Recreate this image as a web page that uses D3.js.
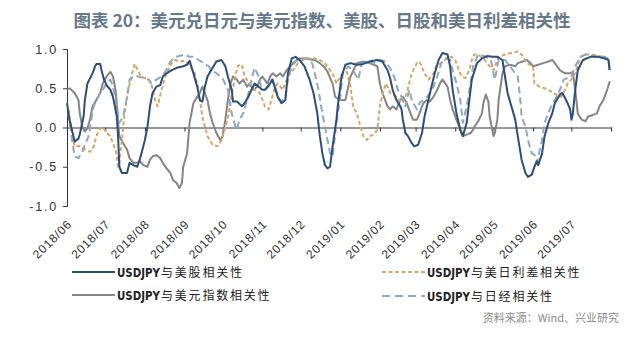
<!DOCTYPE html>
<html><head><meta charset="utf-8">
<script src="https://cdn.jsdelivr.net/npm/d3@7"></script>
<style>body{margin:0;background:#fff}</style>
</head><body><svg id="chart" width="640" height="339"></svg>
<script>
// ---------- data ----------
const START_DATE = "2018-06-01";
const END_DATE = "2019-08-01";
const monthTicks = ["2018/06","2018/07","2018/08","2018/09","2018/10","2018/11","2018/12","2019/01","2019/02","2019/03","2019/04","2019/05","2019/06","2019/07","2019/08"];
const monthLabels = ["2018/06","2018/07","2018/08","2018/09","2018/10","2018/11","2018/12","2019/01","2019/02","2019/03","2019/04","2019/05","2019/06","2019/07"];
const yTicks = [-1, -0.5, 0, 0.5, 1];
const yTickLabels = ["-1.0","-0.5","0.0","0.5","1.0"];
const titleText = "图表 20：美元兑日元与美元指数、美股、日股和美日利差相关性";
const sourceText = "资料来源：Wind、兴业研究";
const seriesNames = ["USDJPY与美股相关性","USDJPY与美元指数相关性","USDJPY与美日利差相关性","USDJPY与日经相关性"];

// [days since START_DATE, correlation]
const usStockCorr = [[0,0.31],[2,0.10],[5,-0.11],[6,-0.18],[9,-0.14],[10,-0.09],[13,0.14],[14,0.35],[16,0.56],[20,0.69],[22,0.78],[23,0.81],[26,0.81],[27,0.73],[29,0.61],[31,0.54],[34,0.48],[36,0.39],[39,0.14],[40,-0.11],[41,-0.50],[43,-0.58],[47,-0.58],[49,-0.45],[52,-0.48],[55,-0.50],[57,-0.41],[61,-0.16],[63,0.01],[65,0.27],[67,0.44],[70,0.52],[73,0.54],[75,0.65],[78,0.69],[82,0.73],[86,0.76],[91,0.78],[94,0.80],[96,0.85],[99,0.69],[102,0.52],[104,0.35],[106,0.33],[108,0.52],[110,0.65],[114,0.76],[117,0.84],[121,0.86],[124,0.78],[126,0.65],[129,0.48],[130,0.33],[133,0.33],[137,0.27],[139,0.31],[142,0.39],[145,0.50],[147,0.56],[150,0.52],[153,0.48],[155,0.48],[159,0.56],[161,0.61],[165,0.39],[168,0.31],[171,0.35],[173,0.69],[176,0.88],[179,0.90],[182,0.86],[186,0.78],[190,0.61],[193,0.44],[196,0.18],[198,-0.11],[200,-0.33],[202,-0.48],[204,-0.52],[206,-0.50],[208,-0.24],[211,0.10],[212,0.27],[215,0.65],[218,0.80],[222,0.82],[227,0.80],[232,0.81],[237,0.84],[243,0.86],[247,0.84],[251,0.73],[253,0.63],[255,0.48],[258,0.35],[261,0.27],[262,0.23],[263,0.10],[265,-0.07],[267,-0.11],[270,-0.20],[272,-0.24],[275,-0.22],[278,-0.07],[280,0.14],[283,0.35],[286,0.56],[288,0.69],[291,0.86],[294,0.95],[298,0.93],[300,0.78],[302,0.48],[305,0.18],[308,-0.03],[310,-0.11],[313,0.06],[316,0.48],[317,0.61],[321,0.82],[325,0.88],[329,0.91],[333,0.90],[337,0.90],[341,0.86],[343,0.65],[345,0.44],[348,0.27],[351,0.10],[353,-0.11],[356,-0.41],[359,-0.58],[361,-0.63],[364,-0.60],[366,-0.50],[368,-0.43],[369,-0.48],[372,-0.33],[374,-0.11],[377,0.06],[380,0.18],[382,0.31],[386,0.42],[388,0.44],[392,0.31],[394,0.23],[395,0.10],[396,0.16],[398,0.48],[400,0.73],[404,0.86],[410,0.90],[416,0.90],[421,0.88],[424,0.86],[425,0.73]];

const usdIndexCorr = [[0,0.48],[2,0.50],[6,0.44],[9,0.35],[10,0.18],[12,0.01],[14,-0.05],[16,-0.01],[18,0.10],[20,0.27],[23,0.35],[26,0.44],[28,0.56],[31,0.65],[34,0.71],[36,0.65],[38,0.48],[39,0.31],[40,0.06],[41,-0.11],[44,-0.20],[47,-0.28],[49,-0.39],[52,-0.45],[55,-0.45],[57,-0.43],[60,-0.48],[63,-0.50],[65,-0.41],[67,-0.37],[70,-0.35],[73,-0.39],[75,-0.45],[78,-0.52],[81,-0.58],[83,-0.67],[86,-0.71],[88,-0.77],[90,-0.71],[91,-0.50],[94,-0.33],[96,0.06],[99,0.31],[102,0.39],[104,0.44],[106,0.52],[110,0.35],[112,0.18],[114,0.06],[117,-0.07],[120,-0.16],[122,-0.11],[124,0.10],[126,0.35],[128,0.56],[130,0.65],[133,0.61],[135,0.56],[138,0.61],[141,0.52],[143,0.56],[146,0.48],[149,0.52],[151,0.61],[153,0.65],[157,0.56],[159,0.65],[161,0.69],[164,0.65],[167,0.69],[169,0.65],[172,0.73],[175,0.78],[177,0.82],[180,0.86],[182,0.88],[186,0.88],[190,0.87],[194,0.86],[198,0.82],[202,0.76],[204,0.71],[208,0.56],[210,0.39],[214,0.35],[218,0.35],[222,0.65],[227,0.82],[232,0.84],[237,0.82],[243,0.78],[245,0.56],[247,0.44],[251,0.27],[253,0.23],[255,0.27],[258,0.23],[261,0.35],[263,0.39],[266,0.31],[269,0.18],[271,0.10],[274,0.10],[276,0.18],[279,0.31],[282,0.35],[284,0.33],[287,0.39],[290,0.48],[292,0.56],[294,0.61],[298,0.52],[300,0.35],[302,0.23],[305,0.10],[308,-0.03],[310,-0.11],[313,-0.09],[316,-0.07],[318,-0.03],[319,0.01],[322,0.08],[325,0.18],[326,0.31],[328,0.42],[330,0.33],[331,0.14],[333,-0.03],[334,-0.11],[335,-0.07],[337,0.10],[338,0.35],[341,0.69],[343,0.78],[347,0.80],[351,0.78],[353,0.82],[357,0.84],[360,0.86],[363,0.82],[365,0.78],[369,0.80],[373,0.82],[377,0.84],[380,0.86],[382,0.82],[386,0.73],[390,0.69],[394,0.69],[396,0.71],[398,0.48],[400,0.18],[403,0.10],[406,0.08],[408,0.14],[412,0.16],[415,0.18],[417,0.27],[420,0.35],[423,0.48],[425,0.59]];

const rateSpreadCorr = [[1,0.23],[4,-0.07],[6,-0.24],[10,-0.24],[14,-0.28],[18,-0.31],[21,-0.24],[23,-0.11],[26,-0.01],[28,0.01],[31,-0.07],[34,-0.11],[36,-0.20],[38,-0.28],[39,-0.37],[40,-0.50],[41,-0.45],[43,-0.16],[45,0.18],[48,0.48],[51,0.69],[53,0.81],[56,0.71],[58,0.65],[61,0.63],[64,0.61],[66,0.56],[69,0.35],[71,0.27],[74,0.48],[77,0.65],[79,0.73],[82,0.82],[85,0.86],[88,0.84],[92,0.85],[96,0.80],[100,0.69],[103,0.48],[106,0.14],[110,-0.11],[114,-0.22],[118,-0.24],[121,-0.16],[126,0.12],[129,0.42],[132,0.68],[134,0.79],[137,0.80],[139,0.65],[143,0.56],[147,0.48],[151,0.44],[155,0.27],[158,0.23],[160,0.35],[163,0.52],[165,0.56],[169,0.48],[173,0.65],[177,0.73],[181,0.82],[185,0.86],[189,0.88],[194,0.88],[198,0.86],[202,0.82],[206,0.73],[209,0.65],[211,0.56],[214,0.65],[216,0.69],[219,0.71],[222,0.52],[224,0.27],[227,0.18],[229,0.06],[232,-0.11],[235,-0.16],[237,-0.11],[240,-0.09],[243,-0.03],[245,0.27],[248,0.48],[250,0.56],[253,0.44],[258,0.39],[263,0.31],[266,0.44],[270,0.69],[274,0.82],[276,0.84],[280,0.69],[283,0.61],[287,0.69],[289,0.78],[293,0.82],[297,0.88],[301,0.90],[304,0.86],[307,0.73],[309,0.65],[312,0.63],[315,0.73],[317,0.86],[319,0.93],[322,0.93],[327,0.86],[331,0.78],[334,0.73],[338,0.90],[343,0.93],[348,0.95],[353,0.97],[356,0.93],[360,0.82],[365,0.78],[366,0.56],[370,0.52],[374,0.50],[379,0.46],[383,0.42],[387,0.39],[390,0.48],[392,0.56],[395,0.61],[398,0.69],[402,0.90],[406,0.93],[411,0.93],[416,0.91],[421,0.90],[424,0.88],[425,0.78]];

const nikkeiCorr = [[1,0.18],[4,-0.16],[6,-0.37],[9,-0.39],[12,-0.31],[14,-0.22],[17,-0.11],[19,0.10],[21,0.27],[23,0.35],[26,0.44],[28,0.48],[31,0.56],[34,0.61],[36,0.52],[39,0.27],[41,0.06],[44,0.14],[47,0.39],[49,0.61],[52,0.65],[56,0.65],[60,0.63],[64,0.61],[66,0.56],[70,0.61],[74,0.65],[77,0.71],[81,0.84],[85,0.90],[88,0.91],[92,0.93],[96,0.90],[100,0.90],[103,0.86],[107,0.82],[111,0.78],[113,0.73],[118,0.68],[122,0.62],[126,0.48],[129,0.18],[132,0.01],[133,-0.03],[135,0.10],[138,0.18],[141,0.35],[145,0.65],[147,0.76],[150,0.65],[152,0.52],[155,0.48],[158,0.52],[160,0.61],[163,0.52],[165,0.39],[168,0.33],[171,0.39],[173,0.61],[176,0.78],[179,0.84],[181,0.86],[186,0.88],[189,0.88],[192,0.82],[194,0.69],[197,0.48],[199,0.27],[202,0.01],[204,-0.16],[206,-0.33],[208,-0.37],[211,0.06],[214,0.39],[216,0.69],[220,0.78],[224,0.73],[228,0.61],[231,0.82],[235,0.84],[240,0.82],[245,0.86],[249,0.84],[252,0.78],[254,0.73],[257,0.61],[259,0.48],[262,0.39],[265,0.27],[268,0.48],[270,0.35],[274,0.23],[276,0.31],[279,0.35],[282,0.39],[284,0.44],[287,0.52],[290,0.65],[293,0.82],[297,0.88],[300,0.86],[302,0.73],[305,0.56],[308,0.35],[310,0.06],[313,0.27],[316,0.56],[318,0.78],[322,0.93],[327,0.91],[332,0.86],[335,0.61],[338,0.86],[343,0.86],[347,0.78],[351,0.69],[353,0.65],[355,0.35],[356,0.14],[359,0.01],[361,-0.16],[364,-0.33],[366,-0.35],[368,-0.45],[369,-0.37],[372,-0.16],[374,0.06],[378,0.23],[382,0.35],[386,0.48],[389,0.61],[392,0.63],[395,0.65],[398,0.78],[402,0.90],[406,0.93],[411,0.91],[416,0.90],[421,0.90],[424,0.86],[425,0.69]];

// ---------- chart ----------
const svg = d3.select("#chart");
const parseDay = d3.timeParse("%Y-%m-%d");
const parseMonth = d3.timeParse("%Y/%m");
const start = parseDay(START_DATE);
const x = d3.scaleTime().domain([start, parseDay(END_DATE)]).range([67, 611]);
const y = d3.scaleLinear().domain([-1, 1]).range([206, 49]);

svg.append("text")
  .attr("x", 322).attr("y", 27).attr("text-anchor", "middle")
  .attr("font-family", "'Noto Sans CJK SC', sans-serif")
  .attr("font-size", 17.5).attr("font-weight", "bold").attr("fill", "#66788b")
  .text(titleText);

// y axis
const yAxis = svg.append("g").attr("transform", "translate(67,0)")
  .call(d3.axisLeft(y).tickValues(yTicks).tickFormat((d, i) => yTickLabels[i]).tickSize(4).tickSizeOuter(4).tickPadding(5));
yAxis.selectAll("path,line").attr("stroke", "#333");
yAxis.selectAll("text").attr("font-family", "Arial, 'Liberation Sans', sans-serif")
  .attr("font-size", 12.5).attr("letter-spacing", "1.8px").attr("fill", "#333");

// zero axis with month ticks
const monthDates = monthTicks.map(parseMonth);
const xAxis = svg.append("g").attr("transform", `translate(0,${y(0)})`)
  .call(d3.axisBottom(x).tickValues(monthDates).tickFormat("").tickSize(4).tickSizeOuter(0));
xAxis.selectAll("path,line").attr("stroke", "#333");

// month labels at bottom
const labelDates = monthLabels.map(parseMonth);
const xLab = svg.append("g").attr("transform", "translate(0,216)")
  .call(d3.axisBottom(x).tickValues(labelDates).tickFormat((d, i) => monthLabels[i]).tickSize(0));
xLab.select(".domain").remove();
xLab.selectAll("text")
  .attr("x", 0).attr("y", 0).attr("dy", "0.35em")
  .attr("text-anchor", "end")
  .attr("transform", "translate(2,6) rotate(-45)")
  .attr("font-family", "Arial, 'Liberation Sans', sans-serif")
  .attr("font-size", 12).attr("letter-spacing", "0.8px").attr("fill", "#333");

// lines
const line = d3.line().x(d => x(d3.timeDay.offset(start, d[0]))).y(d => y(d[1]));
const styles = [
  {data: usdIndexCorr, color: "#858585", dash: null},
  {data: rateSpreadCorr, color: "#d6a663", dash: "4,2.5"},
  {data: nikkeiCorr, color: "#8fa8be", dash: "7,4"},
  {data: usStockCorr, color: "#2a4e7d", dash: null}
];
svg.append("g").selectAll("path").data(styles).join("path")
  .attr("d", s => line(s.data))
  .attr("fill", "none").attr("stroke", s => s.color).attr("stroke-width", 2)
  .attr("stroke-dasharray", s => s.dash).attr("stroke-linejoin", "round");

// legend
const legendItems = [
  {name: seriesNames[0], color: "#2a4e7d", dash: null, x: 72, y: 272},
  {name: seriesNames[1], color: "#858585", dash: null, x: 72, y: 295},
  {name: seriesNames[2], color: "#d6a663", dash: "4,2.5", x: 382, y: 272},
  {name: seriesNames[3], color: "#8fa8be", dash: "8,5", x: 382, y: 296}
];
const lg = svg.append("g").selectAll("g").data(legendItems).join("g")
  .attr("transform", d => `translate(${d.x},${d.y})`);
lg.append("line").attr("x1", 0).attr("x2", 43).attr("y1", 0).attr("y2", 0)
  .attr("stroke", d => d.color).attr("stroke-width", 2).attr("stroke-dasharray", d => d.dash);
lg.append("text").attr("x", 45).attr("y", 4.5).attr("fill", "#222")
  .attr("font-family", "'Liberation Sans Narrow', 'DejaVu Sans Condensed', Arial, sans-serif")
  .attr("font-weight", "bold").attr("font-size", 12.5)
  .attr("textLength", 43).attr("lengthAdjust", "spacingAndGlyphs")
  .text(d => d.name.slice(0, 6));
lg.append("text").attr("x", 89).attr("y", 4.5).attr("fill", "#222")
  .attr("font-family", "'Noto Sans CJK SC', sans-serif")
  .attr("font-size", 12).attr("letter-spacing", "1.8px").text(d => d.name.slice(6));

svg.append("text").attr("x", 619).attr("y", 322).attr("text-anchor", "end")
  .attr("font-family", "'Noto Sans CJK SC', sans-serif").attr("font-size", 11)
  .attr("fill", "#8a8a8a").text(sourceText);
</script>
</body></html>
